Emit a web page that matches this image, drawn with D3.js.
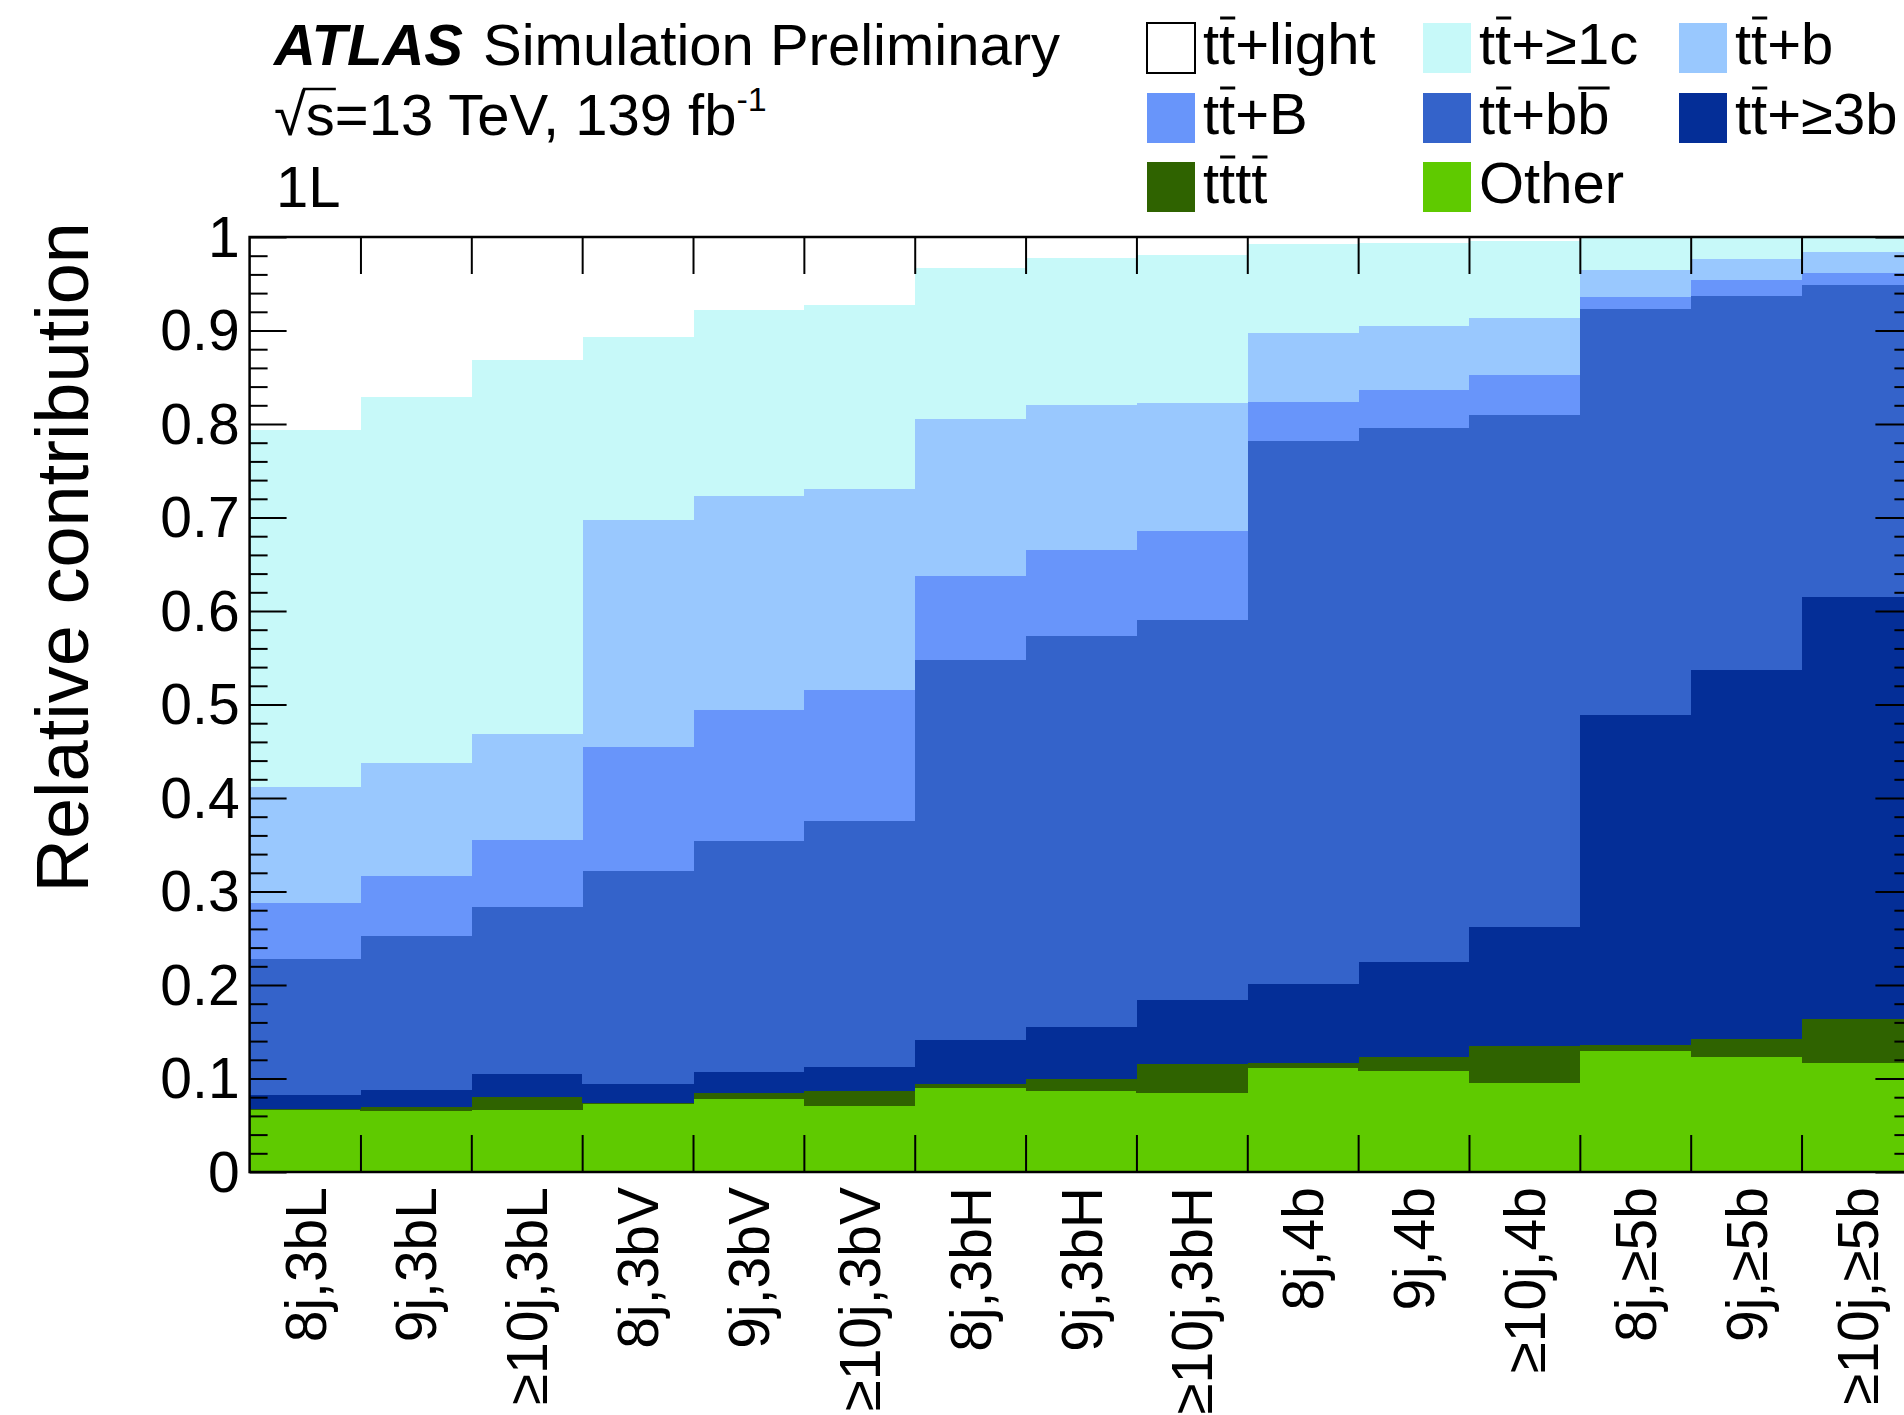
<!DOCTYPE html>
<html>
<head>
<meta charset="utf-8">
<script src="https://cdn.jsdelivr.net/npm/d3@7"></script>
<style>
body { margin: 0; background: #fff; }
svg text { font-family: "Liberation Sans", Arial, Helvetica, sans-serif; fill: #000; }
</style>
</head>
<body>
<svg id="chart" width="1904" height="1415"></svg>
<script>
// analysis regions (x axis categories)
var bins = ['8j,3bL', '9j,3bL', '≥10j,3bL', '8j,3bV', '9j,3bV', '≥10j,3bV',
	'8j,3bH', '9j,3bH', '≥10j,3bH', '8j,4b', '9j,4b', '≥10j,4b',
	'8j,≥5b', '9j,≥5b', '≥10j,≥5b']

// fraction of each process per region (bottom to top)
var other = [0.066, 0.065, 0.066, 0.073, 0.078, 0.071, 0.090, 0.087, 0.084, 0.111, 0.108, 0.095, 0.129, 0.123, 0.117]
var tttt  = [0.001, 0.005, 0.014, 0.001, 0.006, 0.016, 0.004, 0.012, 0.032, 0.006, 0.015, 0.040, 0.007, 0.019, 0.047]
var tt3b  = [0.015, 0.018, 0.025, 0.020, 0.023, 0.025, 0.047, 0.056, 0.068, 0.084, 0.102, 0.127, 0.353, 0.395, 0.451]
var ttbb  = [0.146, 0.164, 0.178, 0.228, 0.247, 0.263, 0.407, 0.418, 0.406, 0.581, 0.571, 0.548, 0.434, 0.400, 0.334]
var ttB   = [0.060, 0.065, 0.072, 0.133, 0.140, 0.140, 0.089, 0.092, 0.096, 0.041, 0.040, 0.042, 0.013, 0.017, 0.013]
var ttb   = [0.124, 0.120, 0.113, 0.242, 0.229, 0.215, 0.168, 0.155, 0.136, 0.074, 0.069, 0.061, 0.029, 0.022, 0.022]
var tt1c  = [0.382, 0.392, 0.400, 0.196, 0.199, 0.197, 0.162, 0.158, 0.159, 0.095, 0.089, 0.083, 0.035, 0.024, 0.016]
var ttlight = [0.206, 0.171, 0.132, 0.107, 0.078, 0.073, 0.033, 0.022, 0.019, 0.008, 0.006, 0.004, 0.000, 0.000, 0.000]

// y axis ticks
var majorTicks = [0, 0.1, 0.2, 0.3, 0.4, 0.5, 0.6, 0.7, 0.8, 0.9, 1]
var majorLabels = ['0', '0.1', '0.2', '0.3', '0.4', '0.5', '0.6', '0.7', '0.8', '0.9', '1']

var keys = ['other', 'tttt', 'tt3b', 'ttbb', 'ttB', 'ttb', 'tt1c', 'ttlight']
var series = {other: other, tttt: tttt, tt3b: tt3b, ttbb: ttbb, ttB: ttB, ttb: ttb, tt1c: tt1c, ttlight: ttlight}
var colors = {
	ttlight: '#ffffff', tt1c: '#c7f9f9', ttb: '#99c8fe', ttB: '#6895fa',
	ttbb: '#3463ca', tt3b: '#042e97', tttt: '#2f6300', other: '#5fca00'
}
// {x} = letter with a bar over it
var names = {
	ttlight: 't{t}+light', tt1c: 't{t}+≥1c', ttb: 't{t}+b', ttB: 't{t}+B',
	ttbb: 't{t}+b{b}', tt3b: 't{t}+≥3b', tttt: 't{t}t{t}', other: 'Other'
}
var legendRows = [['ttlight', 'tt1c', 'ttb'], ['ttB', 'ttbb', 'tt3b'], ['tttt', 'other']]

var svg = d3.select('#chart')
var L = 249.6, R = 1912.4, T = 237, B = 1172
var FS = 58

var y = d3.scaleLinear().domain([0, 1]).range([B, T])
var xb = d3.scaleBand().domain(bins).range([L, R])
var xi = d3.scaleLinear().domain([0, bins.length]).range([L, R])

var rows = bins.map(function(b, i) {
	var r = {bin: b}
	keys.forEach(function(k) { r[k] = series[k][i] })
	return r
})
var stacked = d3.stack().keys(keys)(rows)

// stacked fractions
svg.append('g')
	.selectAll('g')
	.data(stacked)
	.enter().append('g')
		.attr('fill', function(d) { return colors[d.key] })
	.selectAll('rect')
	.data(function(d) { return d })
	.enter().append('rect')
		.attr('shape-rendering', 'crispEdges')
		.attr('x', function(d) { return xb(d.data.bin) })
		.attr('width', xb.bandwidth() + 0.5)
		.attr('y', function(d) { return y(d[1]) })
		.attr('height', function(d) { return y(d[0]) - y(d[1]) })

function styleAxis(g) {
	g.select('.domain').remove()
	g.selectAll('line').attr('stroke', '#000').attr('stroke-width', 2)
	g.attr('font-family', null).attr('font-size', 57)
	g.selectAll('text').attr('fill', '#000')
}

var minorTicks = d3.range(0, 51).map(function(d) { return d / 50 })
	.filter(function(d, i) { return i % 5 != 0 })

svg.append('g')
	.attr('transform', 'translate(' + L + ',0)')
	.call(d3.axisLeft(y).tickValues(majorTicks).tickSize(-37).tickPadding(10)
		.tickFormat(function(d, i) { return majorLabels[i] }))
	.call(styleAxis)
	.selectAll('text').attr('dy', '0.34em')

svg.append('g')
	.attr('transform', 'translate(' + L + ',0)')
	.call(d3.axisLeft(y).tickValues(minorTicks).tickSize(-18).tickFormat(''))
	.call(styleAxis)

svg.append('g')
	.attr('transform', 'translate(' + R + ',0)')
	.call(d3.axisRight(y).tickValues(majorTicks).tickSize(-37).tickFormat(''))
	.call(styleAxis)

svg.append('g')
	.attr('transform', 'translate(' + R + ',0)')
	.call(d3.axisRight(y).tickValues(minorTicks).tickSize(-18).tickFormat(''))
	.call(styleAxis)

svg.append('g')
	.attr('transform', 'translate(0,' + T + ')')
	.call(d3.axisTop(xi).tickValues(d3.range(1, bins.length)).tickSize(-37).tickFormat(''))
	.call(styleAxis)

svg.append('g')
	.attr('transform', 'translate(0,' + B + ')')
	.call(d3.axisBottom(xi).tickValues(d3.range(1, bins.length)).tickSize(-37).tickFormat(''))
	.call(styleAxis)

// frame
svg.append('rect')
	.attr('x', L).attr('y', T)
	.attr('width', R - L).attr('height', B - T)
	.attr('fill', 'none').attr('stroke', '#000').attr('stroke-width', 2.5)

// category labels, rotated
svg.append('g')
	.selectAll('text')
	.data(bins)
	.enter().append('text')
		.attr('transform', function(d) { return 'translate(' + (xb(d) + xb.bandwidth() / 2) + ',' + (B + 15) + ') rotate(-90)' })
		.attr('text-anchor', 'end')
		.attr('dy', '0.36em')
		.attr('font-size', 57)
		.text(function(d) { return d })

svg.append('text')
	.attr('transform', 'translate(88,222) rotate(-90)')
	.attr('text-anchor', 'end')
	.attr('font-size', 74)
	.text('Relative contribution')

// ATLAS label
var t1 = svg.append('text').attr('x', 274).attr('y', 65).attr('font-size', FS)
t1.append('tspan').attr('font-weight', 'bold').attr('font-style', 'italic').text('ATLAS')
t1.append('tspan').attr('dx', 20).text('Simulation Preliminary')

var t2 = svg.append('text').attr('x', 274).attr('y', 135).attr('font-size', FS)
t2.append('tspan').text('√s=13 TeV, 139 fb')
t2.append('tspan').attr('font-size', 34).attr('dy', -24).text('-1')
// bar of the square root over the s
var sExt = t2.node().getExtentOfChar(1)
var rootExt = t2.node().getExtentOfChar(0)
svg.append('line')
	.attr('x1', rootExt.x + rootExt.width - 3).attr('x2', sExt.x + sExt.width + 1)
	.attr('y1', 89).attr('y2', 89)
	.attr('stroke', '#000').attr('stroke-width', 2.5)

svg.append('text').attr('x', 276).attr('y', 207).attr('font-size', FS).text('1L')

// legend text with bars drawn over the marked letters
function addLabel(g, x, yb, str) {
	var plain = '', barred = []
	str.split(/(\{[^}]*\})/).forEach(function(part) {
		if(!part) return
		if(part[0] == '{') {
			barred.push(plain.length)
			plain += part.slice(1, -1)
		} else plain += part
	})
	var txt = g.append('text').attr('x', x).attr('y', yb).attr('font-size', FS).text(plain)
	barred.forEach(function(i) {
		var e = txt.node().getExtentOfChar(i)
		g.append('line')
			.attr('x1', e.x + 1).attr('x2', e.x + e.width)
			.attr('y1', yb - 46).attr('y2', yb - 46)
			.attr('stroke', '#000').attr('stroke-width', 3)
	})
}

var colX = [1147, 1423, 1679]
var rowY = [23, 93, 162]
legendRows.forEach(function(row, r) {
	row.forEach(function(k, c) {
		var g = svg.append('g').attr('transform', 'translate(' + colX[c] + ',' + rowY[r] + ')')
		g.append('rect')
			.attr('width', 48).attr('height', 50)
			.attr('fill', colors[k])
			.attr('stroke', k == 'ttlight' ? '#000' : 'none')
			.attr('stroke-width', 2)
		addLabel(g, 56, 41, names[k])
	})
})
</script>
</body>
</html>
